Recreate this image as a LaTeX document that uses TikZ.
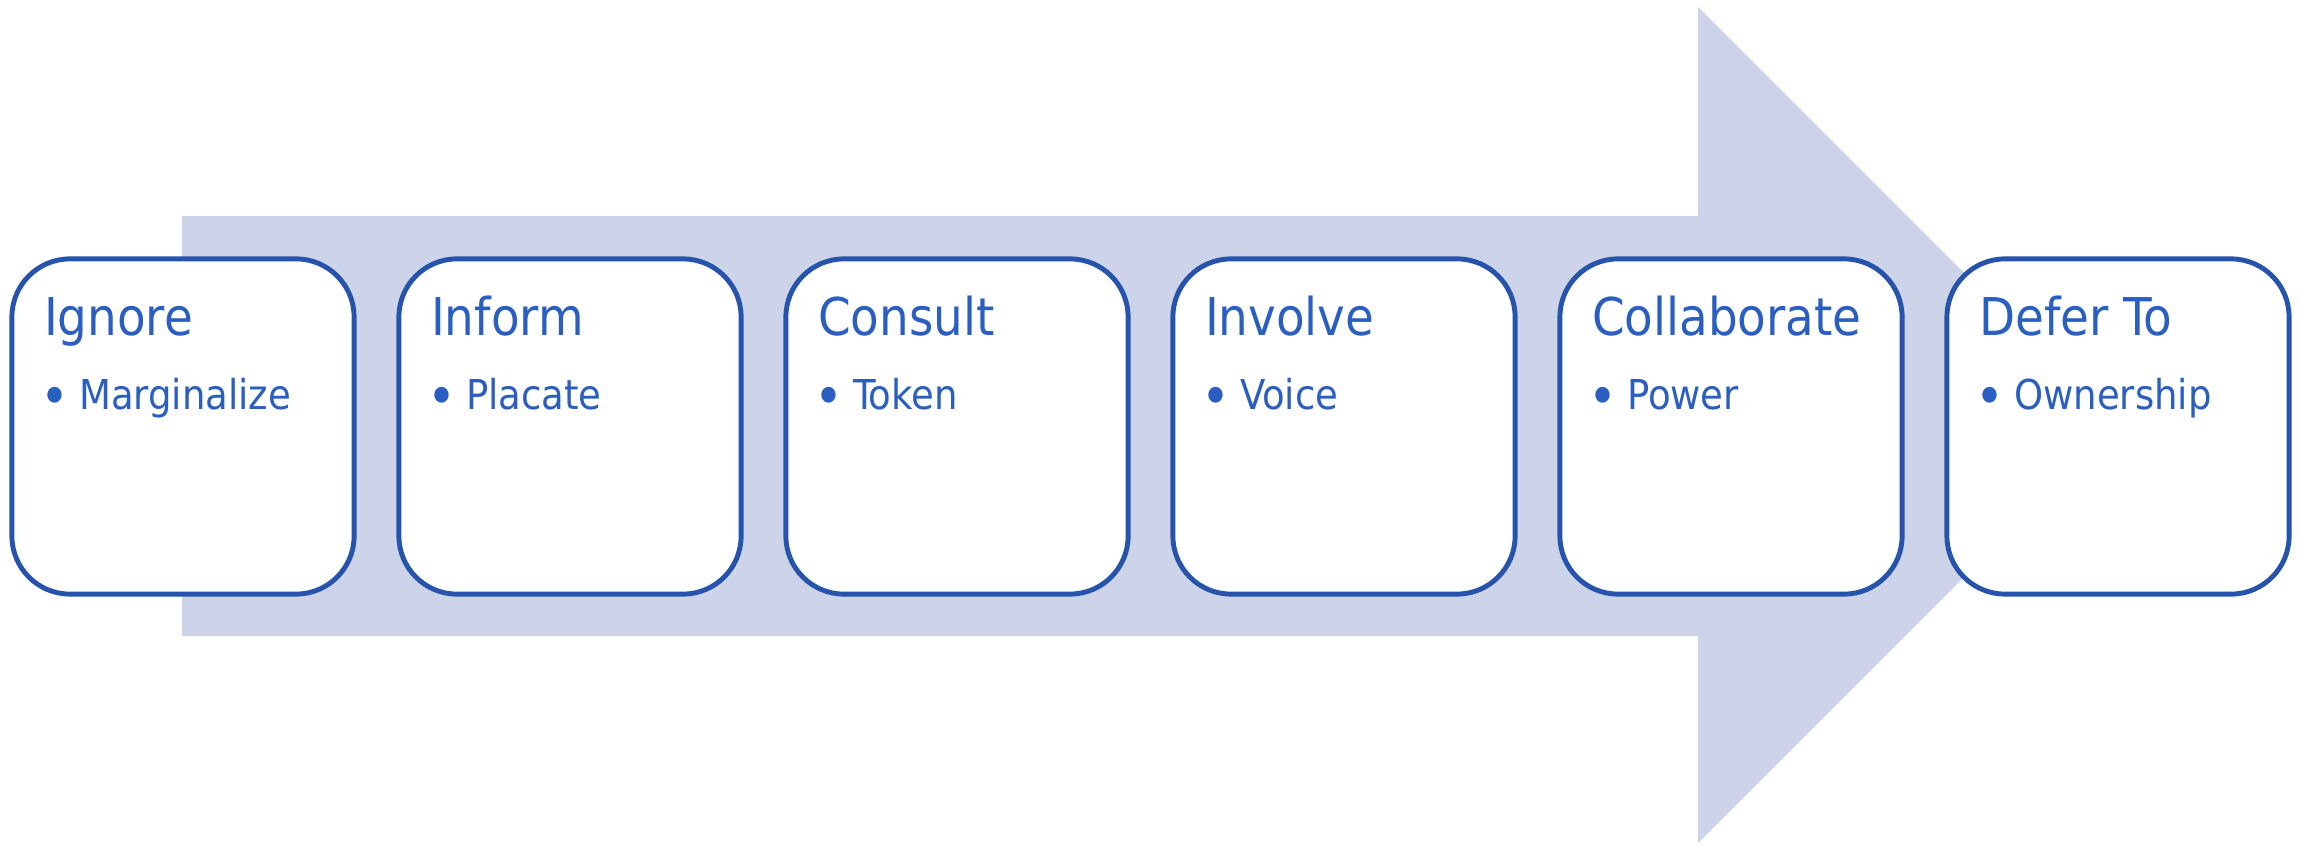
\documentclass[tikz,border=0pt]{standalone}
\usepackage{fontspec}
\setmainfont{DejaVu Sans Condensed}
\usetikzlibrary{calc}
\definecolor{arrowfill}{RGB}{205,211,232}
\definecolor{stageline}{RGB}{38,84,172}
\definecolor{stagetext}{RGB}{42,94,192}
\newcommand{\stagebullet}[1]{\makebox[0.39cm][l]{\raisebox{-0.065cm}{\fontsize{15.5}{15}\selectfont\textbullet}}#1}

\begin{document}
\begin{tikzpicture}[x=0.01cm, y=0.01cm,
		stage/.style={draw=stageline, line width=1.4pt, fill=white, rounded corners=0.58cm, minimum width=3.42cm, minimum height=3.35cm, inner sep=0pt},
		stagetitle/.style={stagetext, anchor=base west, inner sep=0pt, font=\fontsize{14.8}{16}\selectfont},
		stageitem/.style={stagetext, anchor=base west, inner sep=0pt, font=\fontsize{11.7}{14}\selectfont}]
			\useasboundingbox (0, 0) rectangle (2300, 845);
			% big arrow behind the stages
			\fill[arrowfill] (182, 209) -- (182, 629) -- (1698, 629) -- (1698, 838) -- (2116, 420) -- (1698, 2) -- (1698, 209) -- cycle;
			\node[stage] (b1) at (183, 418.5) {};
			\node[stage] (b2) at (570, 418.5) {};
			\node[stage] (b3) at (957, 418.5) {};
			\node[stage] (b4) at (1344, 418.5) {};
			\node[stage] (b5) at (1731, 418.5) {};
			\node[stage] (b6) at (2118, 418.5) {};
			\node[stagetitle] (t1) at ($(b1.north west) + (34, -79)$) {Ignore};
			\node[stagetitle] (t2) at ($(b2.north west) + (34, -79)$) {Inform};
			\node[stagetitle] (t3) at ($(b3.north west) + (34, -79)$) {Consult};
			\node[stagetitle] (t4) at ($(b4.north west) + (34, -79)$) {Involve};
			\node[stagetitle] (t5) at ($(b5.north west) + (34, -79)$) {Collaborate};
			\node[stagetitle] (t6) at ($(b6.north west) + (34, -79)$) {Defer To};
			\node[stageitem] (i1) at ($(b1.north west) + (30, -153)$) {\stagebullet{Marginalize}};
			\node[stageitem] (i2) at ($(b2.north west) + (30, -153)$) {\stagebullet{Placate}};
			\node[stageitem] (i3) at ($(b3.north west) + (30, -153)$) {\stagebullet{Token}};
			\node[stageitem] (i4) at ($(b4.north west) + (30, -153)$) {\stagebullet{Voice}};
			\node[stageitem] (i5) at ($(b5.north west) + (30, -153)$) {\stagebullet{Power}};
			\node[stageitem] (i6) at ($(b6.north west) + (30, -153)$) {\stagebullet{Ownership}};
		\end{tikzpicture}
\end{document}
